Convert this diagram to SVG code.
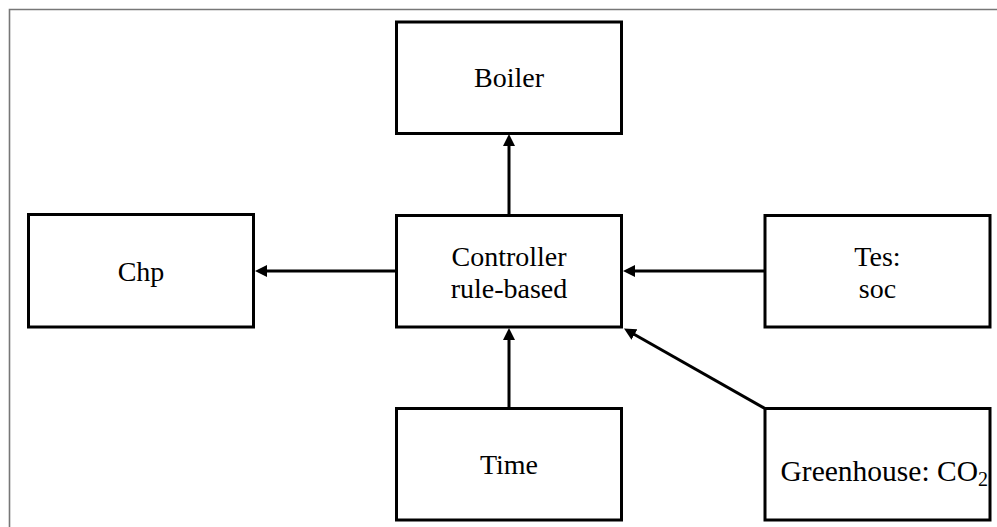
<svg xmlns="http://www.w3.org/2000/svg" width="997" height="527" viewBox="0 0 997 527">
<style>
.box{fill:#fff;stroke:#000;stroke-width:3}
.lbl{font-family:"Liberation Serif","Times New Roman",serif;font-size:28px;fill:#000;text-anchor:middle}
.edge{stroke:#000;stroke-width:3;fill:none}
.frame{stroke:#777;stroke-width:1.6;fill:none}
</style>
<defs>
<marker id="ah" markerUnits="userSpaceOnUse" markerWidth="12" markerHeight="12" refX="4" refY="6" orient="auto">
<path d="M0,0 L12,6 L0,12 z" fill="#000"/>
</marker>
</defs>
<rect width="997" height="527" fill="#fff"/>
<path class="frame" d="M9.5,527 V9.5 H997"/>
<g id="connectors">
<line class="edge" x1="509" y1="215" x2="509" y2="142" marker-end="url(#ah)"/>
<line class="edge" x1="396.5" y1="271" x2="263" y2="271" marker-end="url(#ah)"/>
<line class="edge" x1="765" y1="271" x2="631" y2="271" marker-end="url(#ah)"/>
<line class="edge" x1="509" y1="408.5" x2="509" y2="336" marker-end="url(#ah)"/>
<line class="edge" x1="765" y1="408.5" x2="630.96" y2="332.45" marker-end="url(#ah)"/>
</g>
<g id="boiler">
<rect class="box" x="396.5" y="22" width="225" height="111.5"/>
<text class="lbl" x="509" y="87">Boiler</text>
</g>
<g id="controller">
<rect class="box" x="396.5" y="215.5" width="225" height="111.5"/>
<text class="lbl" x="509" y="265.5">Controller</text>
<text class="lbl" x="509" y="297.5">rule-based</text>
</g>
<g id="chp">
<rect class="box" x="28.5" y="214.5" width="225" height="112.5"/>
<text class="lbl" x="141" y="281">Chp</text>
</g>
<g id="tes">
<rect class="box" x="765" y="215.5" width="225" height="111.5"/>
<text class="lbl" x="877.5" y="265.5">Tes:</text>
<text class="lbl" x="877.5" y="297.5">soc</text>
</g>
<g id="time">
<rect class="box" x="396.5" y="408.5" width="225" height="111.5"/>
<text class="lbl" x="509" y="474">Time</text>
</g>
<g id="greenhouse">
<rect class="box" x="765" y="408.5" width="225" height="111.5"/>
<text class="lbl" x="780.5" y="481" style="text-anchor:start;font-size:29.5px">Greenhouse: CO<tspan font-size="20" dy="5">2</tspan></text>
</g>
</svg>
